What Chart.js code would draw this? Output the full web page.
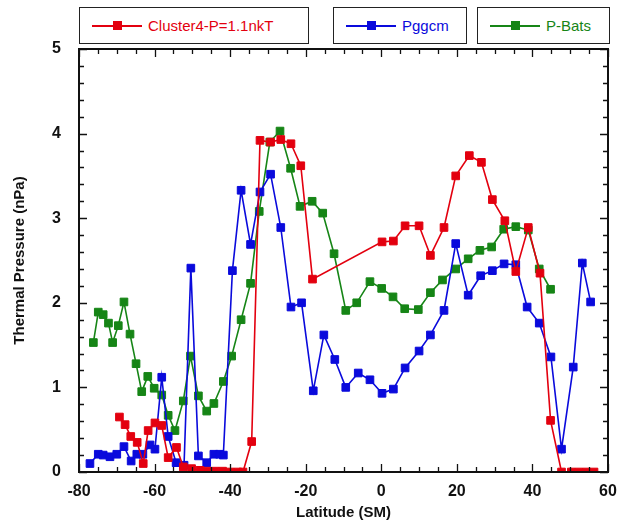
<!DOCTYPE html>
<html>
<head>
<meta charset="utf-8">
<script src="https://cdn.jsdelivr.net/npm/chart.js@4"></script>
<style>
  html, body { margin: 0; padding: 0; background: #fff; }
  #wrap { position: relative; width: 622px; height: 525px; }
  .legend-box {
    position: absolute; top: 7px; height: 37px;
    border: 1.5px solid #222; background: #fff; box-sizing: border-box;
    font-family: "Liberation Sans", Arial, sans-serif; font-size: 15px;
    display: flex; align-items: center;
  }
  .legend-box .sample { position: relative; width: 50px; height: 10px; margin-left: 12px; margin-right: 6px; }
  .legend-box .sample .ln { position: absolute; left: 0; right: 0; top: 4px; height: 2px; }
  .legend-box .sample .sq { position: absolute; left: 21px; top: 0; width: 9px; height: 9px; }
</style>
</head>
<body>
<div id="wrap">
  <canvas id="chart" width="622" height="525"></canvas>
  <div class="legend-box" style="left:79px;width:230px;color:#e3000f">
    <span class="sample"><span class="ln" style="background:#e3000f"></span><span class="sq" style="background:#e3000f"></span></span>Cluster4-P=1.1nkT
  </div>
  <div class="legend-box" style="left:333px;width:134px;color:#0a0adc">
    <span class="sample"><span class="ln" style="background:#0a0adc"></span><span class="sq" style="background:#0a0adc"></span></span>Pggcm
  </div>
  <div class="legend-box" style="left:477px;width:133px;color:#168516">
    <span class="sample"><span class="ln" style="background:#168516"></span><span class="sq" style="background:#168516"></span></span>P-Bats
  </div>
</div>
<script>
// Cluster4 measured pressure
const clusterLat = [-69.3, -67.8, -66.3, -64.6, -63.0, -61.7, -59.9, -58.1, -56.4, -54.2, -52.4, -50.2,
  -48.0, -46.0, -44.0, -42.0, -40.0, -38.0, -36.6, -34.3, -32.1, -29.3, -26.6, -23.9, -21.3, -18.2,
  0.2, 3.2, 6.3, 10.0, 13.0, 16.6, 19.7, 23.3, 26.5, 29.4, 32.7, 35.6, 38.9, 42.0, 44.8, 47.7,
  50.3, 52.3, 54.3, 56.3];
const clusterP = [0.65, 0.56, 0.42, 0.35, 0.10, 0.49, 0.58, 0.55, 0.17, 0.29, 0.06, 0.04,
  0.02, 0.01, 0.01, 0.01, 0.0, 0.0, 0.0, 0.36, 3.92, 3.90, 3.93, 3.88, 3.62, 2.28,
  2.72, 2.73, 2.91, 2.91, 2.56, 2.89, 3.50, 3.74, 3.66, 3.22, 2.97, 2.37, 2.89, 2.35, 0.61, 0.0,
  0.0, 0.0, 0.0, 0.0];

// Pggcm model
const pggcmLat = [-77.1, -74.9, -73.6, -71.8, -70.0, -68.1, -66.2, -64.7, -63.1, -61.2, -59.9, -58.1,
  -56.4, -54.3, -52.2, -50.4, -48.4, -46.2, -44.3, -42.8, -41.8, -39.4, -37.1, -34.6, -32.1, -29.3,
  -26.6, -23.9, -21.1, -18.0, -15.2, -12.3, -9.4, -6.1, -3.0, 0.2, 3.2, 6.3, 10.0, 13.0, 16.6, 19.7,
  23.0, 26.3, 29.4, 32.5, 35.6, 38.6, 41.8, 44.9, 47.7, 50.8, 53.2, 55.4];
const pggcmP = [0.10, 0.21, 0.20, 0.18, 0.21, 0.30, 0.13, 0.21, 0.21, 0.32, 0.27, 1.12,
  0.42, 0.11, 0.08, 2.41, 0.19, 0.11, 0.21, 0.21, 0.20, 2.38, 3.33, 2.69, 3.31, 3.52,
  2.89, 1.95, 2.00, 0.96, 1.62, 1.33, 1.00, 1.17, 1.09, 0.93, 0.98, 1.23, 1.43, 1.62, 1.91, 2.70,
  2.09, 2.32, 2.38, 2.46, 2.45, 1.95, 1.76, 1.36, 0.27, 1.24, 2.47, 2.01];

// BATS-R-US model
const batsLat = [-76.2, -74.9, -73.6, -72.2, -71.1, -69.6, -68.1, -66.5, -64.9, -63.4, -61.8, -60.1,
  -58.1, -56.4, -54.6, -52.4, -50.5, -48.4, -46.2, -44.3, -41.8, -39.6, -37.1, -34.6, -32.3, -29.5,
  -26.8, -24.0, -21.5, -18.3, -15.5, -12.5, -9.4, -6.5, -3.0, 0.1, 3.1, 6.2, 9.8, 13.0, 16.2, 19.7,
  23.0, 26.1, 29.2, 32.4, 35.6, 38.9, 41.8, 44.8];
const batsP = [1.53, 1.89, 1.86, 1.76, 1.53, 1.73, 2.01, 1.63, 1.28, 0.95, 1.13, 0.99,
  0.91, 0.67, 0.49, 0.84, 1.37, 0.90, 0.72, 0.81, 1.07, 1.37, 1.80, 2.23, 3.08, 3.90,
  4.03, 3.59, 3.14, 3.20, 3.06, 2.58, 1.91, 2.00, 2.25, 2.17, 2.07, 1.93, 1.92, 2.12, 2.27, 2.40,
  2.52, 2.62, 2.66, 2.87, 2.90, 2.86, 2.40, 2.16];

const xMin = -80, xMax = 60, xStep = 20, xMinor = 5;
const yMin = 0, yMax = 5, yStep = 1, yMinor = 0.2;

const toPoints = (xs, ys) => xs.map((x, i) => ({ x, y: ys[i] }));

function series(label, xs, ys, color) {
  return {
    label,
    data: toPoints(xs, ys),
    borderColor: color,
    backgroundColor: color,
    borderWidth: 1.6,
    pointStyle: "rect",
    pointRadius: 5.4,
    pointBorderWidth: 1,
    showLine: true,
    tension: 0,
  };
}

// frame with inward ticks on all four sides
const framePlugin = {
  id: "frame",
  afterDatasetsDraw(chart) {
    const { ctx, chartArea: a, scales: { x, y } } = chart;
    ctx.save();
    ctx.strokeStyle = "#111";
    ctx.lineWidth = 1.3;
    ctx.beginPath();
    for (let v = xMin; v <= xMax + 1e-9; v += xMinor) {
      const px = Math.round(x.getPixelForValue(v)) + 0.5;
      const len = Math.abs(v % xStep) < 1e-6 ? 8 : 5;
      ctx.moveTo(px, a.bottom); ctx.lineTo(px, a.bottom - len);
      ctx.moveTo(px, a.top); ctx.lineTo(px, a.top + len);
    }
    for (let i = 0; i <= Math.round((yMax - yMin) / yMinor); i++) {
      const v = yMin + i * yMinor;
      const py = Math.round(y.getPixelForValue(v)) + 0.5;
      const len = i % 5 === 0 ? 8 : 5;
      ctx.moveTo(a.left, py); ctx.lineTo(a.left + len, py);
      ctx.moveTo(a.right, py); ctx.lineTo(a.right - len, py);
    }
    ctx.stroke();
    ctx.lineWidth = 2;
    ctx.strokeRect(a.left, a.top, a.right - a.left, a.bottom - a.top);
    ctx.restore();
  },
};

const tickFont = { family: "'Liberation Sans', Arial, sans-serif", size: 16, weight: "bold" };
const titleFont = { family: "'Liberation Sans', Arial, sans-serif", size: 15, weight: "bold" };

new Chart(document.getElementById("chart"), {
  type: "scatter",
  data: {
    datasets: [
      series("Cluster4-P=1.1nkT", clusterLat, clusterP, "#e3000f"),
      series("Pggcm", pggcmLat, pggcmP, "#0a0adc"),
      series("P-Bats", batsLat, batsP, "#168516"),
    ],
  },
  options: {
    responsive: false,
    animation: false,
    layout: { padding: { top: 49, right: 14, left: 0, bottom: 0 } },
    plugins: { legend: { display: false }, tooltip: { enabled: false } },
    scales: {
      x: {
        type: "linear",
        min: xMin,
        max: xMax,
        grid: { display: false },
        border: { display: false },
        ticks: { stepSize: xStep, color: "#111", font: tickFont, padding: 2, maxRotation: 0 },
        title: { display: true, text: "Latitude (SM)", color: "#111", font: titleFont, padding: { top: 0, bottom: 3 } },
        afterFit: (s) => { s.height = 53; },
      },
      y: {
        min: yMin,
        max: yMax,
        grid: { display: false },
        border: { display: false },
        ticks: { stepSize: yStep, color: "#111", font: tickFont, padding: 10 },
        title: { display: true, text: "Thermal Pressure (nPa)", color: "#111", font: titleFont, padding: { top: 11, bottom: 0 } },
        afterFit: (s) => { s.width = 79; },
      },
    },
  },
  plugins: [framePlugin],
});
</script>
</body>
</html>
